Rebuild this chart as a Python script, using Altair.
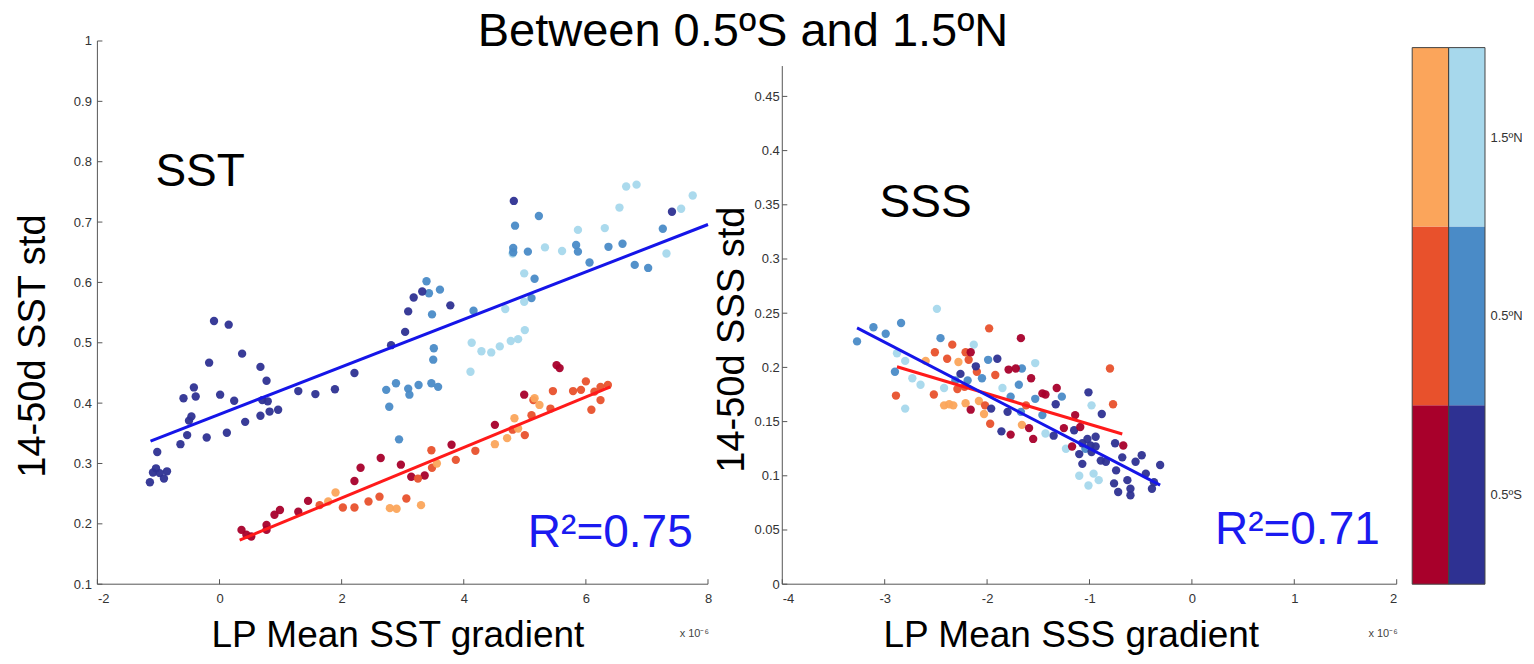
import altair as alt
import pandas as pd

FONT = "Liberation Sans"

# ---------------- data ----------------
lat_names = ["0.5ºS", "0.5ºN", "1.5ºN"]
keys = ["b0", "b1", "b2", "r0", "r1", "r2"]
key_colors = ["#2e3192", "#4a8bc7", "#a7d8ec", "#a8002b", "#e8512c", "#fba55b"]
key_opacity = [0.95, 0.95, 0.75, 0.95, 0.95, 0.9]

# SST panel, blue series (0.5ºS / 0.5ºN / 1.5ºN)
sst_b0_x = [-1.14, -1.09, -1.04, -0.98, -0.91, -0.86, -1.02, -0.64, -0.53, -0.50, -0.46, -0.59, -0.42, -0.39,
            -0.21, -0.17, -0.09, 0.01, 0.12, 0.15, 0.24, 0.37, 0.42, 0.67, 0.67, 0.70, 0.77, 0.79, 0.82, 0.96,
            1.29, 1.57, 1.89, 2.21, 2.81, 3.04, 3.09, 3.18, 3.32, 3.78, 4.82, 7.41]
sst_b0_y = [0.269, 0.285, 0.292, 0.284, 0.275, 0.287, 0.319, 0.332, 0.347, 0.371, 0.378, 0.408, 0.426, 0.411,
            0.343, 0.467, 0.536, 0.414, 0.351, 0.530, 0.404, 0.482, 0.369, 0.460, 0.379, 0.405, 0.437, 0.403,
            0.386, 0.389, 0.420, 0.415, 0.423, 0.450, 0.496, 0.518, 0.552, 0.575, 0.585, 0.562, 0.735, 0.717]
sst_b1_x = [2.73, 2.78, 2.89, 2.94, 3.09, 3.11, 3.26, 3.39, 3.43, 3.47, 3.48, 3.50, 3.51, 3.58, 3.61, 4.16,
            4.81, 4.81, 4.84, 5.05, 5.11, 5.16, 5.23, 5.84, 5.87, 6.06, 6.37, 6.60, 6.80, 7.02, 7.26]
sst_b1_y = [0.422, 0.394, 0.433, 0.340, 0.424, 0.414, 0.430, 0.602, 0.582, 0.433, 0.547, 0.472, 0.491, 0.427,
            0.588, 0.553, 0.657, 0.650, 0.694, 0.651, 0.574, 0.606, 0.710, 0.662, 0.651, 0.633, 0.659, 0.664,
            0.629, 0.624, 0.689]
sst_b2_x = [4.11, 4.13, 4.29, 4.45, 4.59, 4.68, 4.77, 4.80, 4.89, 4.99, 4.99, 5.00, 5.33, 5.61, 5.87, 6.31,
            6.55, 6.66, 6.83, 7.32, 7.56, 7.75]
sst_b2_y = [0.452, 0.500, 0.486, 0.484, 0.494, 0.556, 0.503, 0.648, 0.506, 0.615, 0.568, 0.521, 0.658, 0.652,
            0.687, 0.690, 0.724, 0.759, 0.762, 0.648, 0.722, 0.744]

# SST panel, red series
sst_r0_x = [0.36, 0.44, 0.52, 0.77, 0.77, 0.90, 0.99, 1.29, 1.45, 2.21, 2.31, 2.64, 2.97, 3.14, 3.36, 3.80,
            4.51, 4.99, 5.52, 5.57]
sst_r0_y = [0.190, 0.182, 0.179, 0.198, 0.190, 0.215, 0.223, 0.220, 0.238, 0.271, 0.293, 0.309, 0.298, 0.278,
            0.280, 0.331, 0.364, 0.414, 0.463, 0.458]
sst_r1_x = [1.64, 2.02, 2.21, 2.44, 2.62, 3.06, 3.25, 3.48, 3.47, 3.87, 4.19, 5.00, 4.80, 5.11, 5.14, 5.42,
            5.46, 5.79, 5.92, 6.00, 6.09, 6.14, 6.24, 6.24, 6.36]
sst_r1_y = [0.231, 0.227, 0.227, 0.237, 0.245, 0.242, 0.275, 0.293, 0.322, 0.306, 0.321, 0.347, 0.356, 0.380,
            0.405, 0.391, 0.420, 0.420, 0.422, 0.436, 0.389, 0.419, 0.427, 0.405, 0.430]
sst_r2_x = [1.78, 1.90, 2.79, 2.90, 3.30, 3.56, 4.51, 4.71, 4.83, 4.89, 5.16, 5.24]
sst_r2_y = [0.237, 0.252, 0.226, 0.225, 0.231, 0.300, 0.332, 0.342, 0.375, 0.358, 0.408, 0.397]

# SSS panel, blue series
sss_b0_x = [-2.11, -2.26, -1.90, -1.96, -1.80, -1.86, -1.33, -1.35, -1.15, -1.01, -0.88, -0.94, -1.02, -1.07,
            -0.99, -0.94, -1.10, -1.07, -0.98, -0.89, -0.84, -0.75, -0.68, -0.74, -0.55, -0.49, -0.45, -0.31,
            -0.76, -0.72, -0.63, -0.60, -0.60, -0.39, -0.37]
sss_b0_y = [0.201, 0.194, 0.208, 0.162, 0.159, 0.141, 0.166, 0.137, 0.142, 0.177, 0.157, 0.136, 0.134, 0.130,
            0.128, 0.127, 0.120, 0.111, 0.122, 0.114, 0.113, 0.130, 0.117, 0.105, 0.113, 0.119, 0.102, 0.110,
            0.093, 0.085, 0.096, 0.088, 0.082, 0.088, 0.094]
sss_b1_x = [-3.27, -3.11, -2.99, -2.84, -2.90, -2.455, -2.31, -2.19, -1.99, -2.05, -1.66, -1.69, -1.77, -1.67,
            -1.53, -1.27, -1.46, -1.04]
sss_b1_y = [0.224, 0.237, 0.231, 0.241, 0.196, 0.227, 0.188, 0.188, 0.207, 0.190, 0.199, 0.184, 0.173, 0.159,
            0.171, 0.173, 0.156, 0.125]
sss_b2_x = [-2.49, -2.88, -2.80, -2.80, -2.73, -2.65, -2.42, -2.13, -1.85, -1.53, -1.43, -0.98, -0.96, -0.91,
            -1.01, -1.10, -1.23]
sss_b2_y = [0.254, 0.213, 0.206, 0.162, 0.190, 0.184, 0.181, 0.221, 0.181, 0.204, 0.139, 0.165, 0.102, 0.096,
            0.091, 0.100, 0.125]

# SSS panel, red series
sss_r0_x = [-2.16, -2.16, -1.79, -1.72, -1.67, -1.57, -1.77, -1.59, -1.55, -1.46, -1.43, -1.32, -1.25, -1.14,
            -1.09, -1.17, -0.67]
sss_r0_y = [0.214, 0.161, 0.198, 0.199, 0.227, 0.190, 0.138, 0.144, 0.134, 0.176, 0.175, 0.181, 0.144, 0.156,
            0.145, 0.127, 0.128]
sss_r1_x = [-2.89, -2.51, -2.34, -2.39, -2.52, -2.21, -2.18, -2.29, -2.22, -2.10, -1.98, -1.92, -2.02, -1.97,
            -1.62, -0.80, -0.77]
sss_r1_y = [0.174, 0.214, 0.221, 0.208, 0.175, 0.214, 0.207, 0.180, 0.182, 0.196, 0.236, 0.193, 0.165, 0.148,
            0.165, 0.199, 0.166]
sss_r2_x = [-2.60, -2.42, -2.37, -2.33, -2.28, -2.21, -2.08, -2.03, -1.66]
sss_r2_y = [0.206, 0.165, 0.166, 0.165, 0.205, 0.167, 0.169, 0.157, 0.147]

# regression lines (end points)
sst_fit_blue_x = [-1.13, 8.0]
sst_fit_blue_y = [0.337, 0.696]
sst_fit_red_x = [0.33, 6.40]
sst_fit_red_y = [0.173, 0.427]
sss_fit_blue_x = [-3.27, -0.31]
sss_fit_blue_y = [0.2365, 0.0914]
sss_fit_red_x = [-2.88, -0.68]
sss_fit_red_y = [0.2006, 0.1385]

# axes
sst_xticks = [-2, 0, 2, 4, 6, 8]
sst_yticks = [0.1, 0.2, 0.3, 0.4, 0.5, 0.6, 0.7, 0.8, 0.9, 1.0]
sss_xticks = [-4, -3, -2, -1, 0, 1, 2]
sss_yticks = [0, 0.05, 0.1, 0.15, 0.2, 0.25, 0.3, 0.35, 0.4, 0.45]
sss_ytop = 0.478

# annotations (data coordinates)
title_text = "Between 0.5ºS and 1.5ºN"
sst_label = ("SST", -1.05, 0.760)
sst_r2 = ("R²=0.75", 7.75, 0.161)
sss_label = ("SSS", -3.05, 0.339)
sss_r2 = ("R²=0.71", 1.835, 0.0373)
exp_text = "x 10⁻⁶"

# colour bar cells
cb_x0 = [0, 0, 0, 1, 1, 1]
cb_x1 = [1, 1, 1, 2, 2, 2]
cb_y0 = [0, 1, 2, 0, 1, 2]
cb_y1 = [1, 2, 3, 1, 2, 3]
cb_key = ["r0", "r1", "r2", "b0", "b1", "b2"]
cb_label_pos = [0.5, 1.5, 2.5]

# ---------------- build ----------------
W1, W2, W3, H = 610.6, 614.4, 72.8, 543.2
GAP_MAIN, GAP = 73.5, 14.9
EXT1 = GAP_MAIN - GAP          # extra room right of the SST panel (holds the SSS y title)
BLUE_LINE = "#1515e8"
RED_LINE = "#ff1a1a"
R2_COLOR = "#1a1af0"
SPINE = "#555555"


def pts(groups):
    rows = []
    for key, xs, ys in groups:
        for x, y in zip(xs, ys):
            rows.append({"x": x, "y": y, "k": key})
    return pd.DataFrame(rows)


color_enc = alt.Color("k:N", scale=alt.Scale(domain=keys, range=key_colors), legend=None)
opac_enc = alt.Opacity("k:N", scale=alt.Scale(domain=keys, range=key_opacity), legend=None)

axis_common = dict(grid=False, ticks=False, domainColor=SPINE, domainWidth=1, labelFont=FONT,
                   labelFontSize=13, labelColor="#333333", titleFont=FONT, titleFontWeight="normal",
                   titleColor="#000000")


def panel(df, ys, xticks, yticks, xtitle, ytitle, W, ext, ytitle_x, ytitle_y, xtitle_x, ylab_pad,
          fit_b, fit_r, label, r2, ytop, extra=None):
    x0, x1 = xticks[0], xticks[-1]
    xmax = x1 + ext * (x1 - x0) / W
    xsc = alt.Scale(domain=[x0, xmax], nice=False, zero=False)
    ysc = alt.Scale(domain=ys, nice=False, zero=False)
    xax = alt.Axis(values=xticks, labelExpr="'' + datum.value", title=xtitle, titleFontSize=37,
                   titleX=xtitle_x, titleY=62.4, titleBaseline="alphabetic", titleAlign="center",
                   labelPadding=8, domain=False, **axis_common)
    yax = alt.Axis(values=yticks, labelExpr="'' + datum.value", title=ytitle, titleFontSize=38,
                   titleAngle=270, titleX=ytitle_x, titleY=ytitle_y, titleBaseline="alphabetic",
                   titleAlign="center", labelPadding=ylab_pad, domain=False, **axis_common)

    def X(f):
        return alt.X(f, scale=xsc, axis=xax)

    def Y(f):
        return alt.Y(f, scale=ysc, axis=yax)

    points = alt.Chart(df).mark_circle(size=70).encode(
        x=X("x:Q"), y=Y("y:Q"), color=color_enc, opacity=opac_enc)
    layers = [points]
    for (fx, fy), col in ((fit_r, RED_LINE), (fit_b, BLUE_LINE)):
        layers.append(alt.Chart(pd.DataFrame({"x": fx, "y": fy})).mark_line(color=col, strokeWidth=3).encode(
            x=X("x:Q"), y=Y("y:Q")))
    # axis spines (left and bottom only, as in the original)
    layers.append(alt.Chart(pd.DataFrame({"x": [x0], "y": [ys[0]], "y2": [ytop]})).mark_rule(
        color=SPINE).encode(x=X("x:Q"), y=Y("y:Q"), y2="y2:Q"))
    layers.append(alt.Chart(pd.DataFrame({"x": [x0], "x2": [x1], "y": [ys[0]]})).mark_rule(
        color=SPINE).encode(x=X("x:Q"), x2="x2:Q", y=Y("y:Q")))
    # inward ticks
    layers.append(alt.Chart(pd.DataFrame({"x": xticks})).mark_rule(color=SPINE).encode(
        x=X("x:Q"), y=alt.value(H), y2=alt.value(H - 5)))
    layers.append(alt.Chart(pd.DataFrame({"y": yticks})).mark_rule(color=SPINE).encode(
        y=Y("y:Q"), x=alt.value(0), x2=alt.value(5)))
    # annotations
    layers.append(alt.Chart(pd.DataFrame({"t": [label[0]], "x": [label[1]], "y": [label[2]]})).mark_text(
        align="left", baseline="alphabetic", fontSize=46, font=FONT, color="#000000").encode(
        x=X("x:Q"), y=Y("y:Q"), text="t:N"))
    layers.append(alt.Chart(pd.DataFrame({"t": [r2[0]], "x": [r2[1]], "y": [r2[2]]})).mark_text(
        align="right", baseline="alphabetic", fontSize=46, font=FONT, color=R2_COLOR).encode(
        x=X("x:Q"), y=Y("y:Q"), text="t:N"))
    layers.append(alt.Chart(pd.DataFrame({"t": [exp_text]})).mark_text(
        align="right", baseline="alphabetic", fontSize=11, font=FONT, color="#444444").encode(
        x=alt.value(W + 1), y=alt.value(H + 53), text="t:N"))
    if extra is not None:
        layers.append(extra)
    return alt.layer(*layers).properties(width=W + ext, height=H)


df_sst = pts([("r0", sst_r0_x, sst_r0_y), ("r1", sst_r1_x, sst_r1_y), ("r2", sst_r2_x, sst_r2_y),
              ("b2", sst_b2_x, sst_b2_y), ("b1", sst_b1_x, sst_b1_y), ("b0", sst_b0_x, sst_b0_y)])
df_sss = pts([("b2", sss_b2_x, sss_b2_y), ("r2", sss_r2_x, sss_r2_y), ("b1", sss_b1_x, sss_b1_y),
              ("r1", sss_r1_x, sss_r1_y), ("b0", sss_b0_x, sss_b0_y), ("r0", sss_r0_x, sss_r0_y)])

title_mark = alt.Chart(pd.DataFrame({"t": [title_text]})).mark_text(
    align="center", baseline="alphabetic", fontSize=47, font=FONT, color="#000000").encode(
    x=alt.value(645.6), y=alt.value(5.1), text="t:N")

left = panel(df_sst, [0.1, 1.0], sst_xticks, sst_yticks, "LP Mean SST gradient", "14-50d SST std",
             W1, EXT1, -53.4, 304.6, 300, 6, (sst_fit_blue_x, sst_fit_blue_y),
             (sst_fit_red_x, sst_fit_red_y), sst_label, sst_r2, 1.0, extra=title_mark)
right = panel(df_sss, [0, H / 1084.0], sss_xticks, sss_yticks, "LP Mean SSS gradient", "14-50d SSS std",
              W2, 0, -38.5, 298.2, 288.5, 3, (sss_fit_blue_x, sss_fit_blue_y),
              (sss_fit_red_x, sss_fit_red_y), sss_label, sss_r2, sss_ytop)

cb_df = pd.DataFrame({"x": cb_x0, "x2": cb_x1, "y": cb_y0, "y2": cb_y1, "k": cb_key})
cb_top = 3 * H / 536.6
cb_xs = alt.Scale(domain=[0, 2], nice=False, zero=False)
cb_ys = alt.Scale(domain=[0, cb_top], nice=False, zero=False)
label_expr = "[" + ",".join("'" + n + "'" for n in lat_names) + "][floor(datum.value)]"
cb_yax = alt.Axis(orient="right", values=cb_label_pos, labelExpr=label_expr, domain=False, ticks=False,
                  grid=False, title=None, labelFont=FONT, labelFontSize=13, labelColor="#333333",
                  labelPadding=5)
cb_cells = alt.Chart(cb_df).mark_rect().encode(
    x=alt.X("x:Q", scale=cb_xs, axis=None), x2="x2:Q",
    y=alt.Y("y:Q", scale=cb_ys, axis=cb_yax), y2="y2:Q",
    color=alt.Color("k:N", scale=alt.Scale(domain=keys, range=key_colors), legend=None))
cb_outline = alt.Chart(pd.DataFrame({"x": [0, 1], "x2": [1, 2], "y": [0, 0], "y2": [3, 3]})).mark_rect(
    fillOpacity=0, stroke="#444444", strokeWidth=1).encode(
    x=alt.X("x:Q", scale=cb_xs, axis=None), x2="x2:Q",
    y=alt.Y("y:Q", scale=cb_ys, axis=cb_yax), y2="y2:Q")
cbar = alt.layer(cb_cells, cb_outline).properties(width=W3, height=H)

chart = alt.hconcat(left, right, cbar, spacing=GAP, bounds="flush").properties(
    padding={"left": 5.4, "top": 0, "right": 0, "bottom": 7.4}
).configure(font=FONT).configure_view(strokeWidth=0)

chart.save("out.html", embed_options={"renderer": "svg", "actions": False})
